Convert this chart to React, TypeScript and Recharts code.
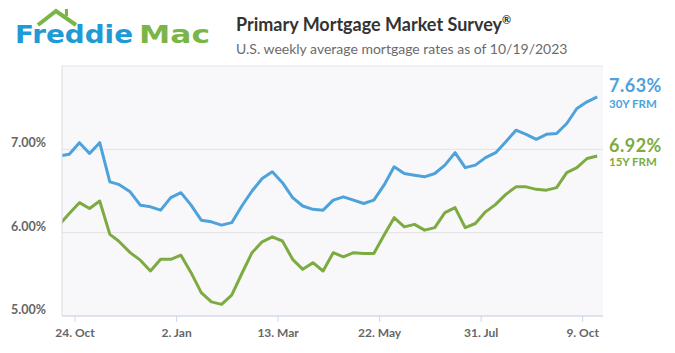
import { LineChart, Line, XAxis, YAxis, CartesianGrid } from "recharts";

// weekly survey dates (Thursdays) and rates
const weekDates = [
  "2022-10-13", "2022-10-20", "2022-10-27", "2022-11-03", "2022-11-10", "2022-11-17",
  "2022-11-23", "2022-12-01", "2022-12-08", "2022-12-15", "2022-12-22", "2022-12-29",
  "2023-01-05", "2023-01-12", "2023-01-19", "2023-01-26", "2023-02-02", "2023-02-09",
  "2023-02-16", "2023-02-23", "2023-03-02", "2023-03-09", "2023-03-16", "2023-03-23",
  "2023-03-30", "2023-04-06", "2023-04-13", "2023-04-20", "2023-04-27", "2023-05-04",
  "2023-05-11", "2023-05-18", "2023-05-25", "2023-06-01", "2023-06-08", "2023-06-15",
  "2023-06-22", "2023-06-29", "2023-07-06", "2023-07-13", "2023-07-20", "2023-07-27",
  "2023-08-03", "2023-08-10", "2023-08-17", "2023-08-24", "2023-08-31", "2023-09-07",
  "2023-09-14", "2023-09-21", "2023-09-28", "2023-10-05", "2023-10-12", "2023-10-19",
];

const rate30y = [
  6.92, 6.94, 7.08, 6.95, 7.08, 6.61, 6.58, 6.49, 6.33, 6.31,
  6.27, 6.42, 6.48, 6.33, 6.15, 6.13, 6.09, 6.12, 6.32, 6.5,
  6.65, 6.73, 6.6, 6.42, 6.32, 6.28, 6.27, 6.39, 6.43, 6.39,
  6.35, 6.39, 6.57, 6.79, 6.71, 6.69, 6.67, 6.71, 6.81, 6.96,
  6.78, 6.81, 6.9, 6.96, 7.09, 7.23, 7.18, 7.12, 7.18, 7.19,
  7.31, 7.49, 7.57, 7.63,
];

const rate15y = [
  6.09, 6.23, 6.36, 6.29, 6.38, 5.98, 5.9, 5.76, 5.67, 5.54,
  5.68, 5.68, 5.73, 5.52, 5.28, 5.17, 5.14, 5.25, 5.51, 5.76,
  5.89, 5.95, 5.9, 5.68, 5.56, 5.64, 5.54, 5.76, 5.71, 5.76,
  5.75, 5.75, 5.97, 6.18, 6.07, 6.1, 6.03, 6.06, 6.24, 6.3,
  6.06, 6.11, 6.25, 6.34, 6.46, 6.55, 6.55, 6.52, 6.51, 6.54,
  6.72, 6.78, 6.89, 6.92,
];

const tickDates = ["2022-10-24", "2023-01-02", "2023-03-13", "2023-05-22", "2023-07-31", "2023-10-09"];
const tickLabels = ["24. Oct", "2. Jan", "13. Mar", "22. May", "31. Jul", "9. Oct"];
const xRange = ["2022-10-15", "2023-10-23"];
const yTicks = [5, 6, 7, 8];

const BLUE = "#4ea2db";
const GREEN = "#7dab42";
const FONT = "Lato, 'Open Sans', sans-serif";

const toTime = (d: string) => new Date(d + "T00:00:00Z").getTime();

const data = weekDates.map((d, i) => ({ t: toTime(d), r30: rate30y[i], r15: rate15y[i] }));
const tickTimes = tickDates.map(toTime);

function YTick(props: any) {
  const { y, payload } = props;
  if (payload.value >= 8) return null;
  return (
    <text x={46} y={y - 2} textAnchor="end" fill="#666" fontSize={12.5} fontWeight={700} fontFamily={FONT}>
      {payload.value.toFixed(2)}%
    </text>
  );
}

function Header() {
  return (
    <svg width={675} height={353} style={{ position: "absolute", left: 0, top: 0, pointerEvents: "none" }}>
      {/* logo */}
      <polyline points="38,25 56,11 76,25" fill="none" stroke="#7ab547" strokeWidth={4} strokeLinejoin="miter" />
      <rect x={65} y={9} width={3} height={7} fill="#7ab547" />
      <text x={15} y={43} fill="#1e9ad6" fontSize={25} fontWeight={700} fontFamily="'DejaVu Sans', sans-serif"
        textLength={118} lengthAdjust="spacingAndGlyphs">Freddie</text>
      <text x={139} y={43} fill="#7ab547" fontSize={25} fontWeight={700} fontFamily="'DejaVu Sans', sans-serif"
        textLength={71} lengthAdjust="spacingAndGlyphs">Mac</text>
      {/* titles */}
      <text x={236} y={31} fill="#333" fontSize={18} fontWeight={700} fontFamily={FONT}>
        Primary Mortgage Market Survey<tspan fontSize={11} dy={-7}>®</tspan>
      </text>
      <text x={236} y={54} fill="#6b6b6b" fontSize={14} fontFamily={FONT}>
        U.S. weekly average mortgage rates as of 10/19/2023
      </text>
      {/* end labels */}
      <text x={609} y={92} fill={BLUE} fontSize={18} fontWeight={700} fontFamily={FONT} letterSpacing={0.5}>7.63%</text>
      <text x={609} y={108} fill={BLUE} fontSize={11.5} fontWeight={700} fontFamily={FONT}>30Y FRM</text>
      <text x={609} y={152} fill={GREEN} fontSize={18} fontWeight={700} fontFamily={FONT} letterSpacing={0.5}>6.92%</text>
      <text x={609} y={166} fill={GREEN} fontSize={11.5} fontWeight={700} fontFamily={FONT}>15Y FRM</text>
    </svg>
  );
}

export default function App() {
  return (
    <div style={{ position: "absolute", left: 0, top: 0, width: 675, height: 353, background: "#fff" }}>
      <LineChart width={675} height={353} data={data} margin={{ top: 66, right: 72, bottom: 7, left: 0 }}>
        <CartesianGrid vertical={false} stroke="#e3e3e3" fill="#f8f8fa" />
        <XAxis
          dataKey="t"
          type="number"
          domain={[toTime(xRange[0]), toTime(xRange[1])]}
          allowDataOverflow
          ticks={tickTimes}
          tickFormatter={(v: number) => tickLabels[tickTimes.indexOf(v)] ?? ""}
          height={30}
          axisLine={{ stroke: "#ccd6eb" }}
          tickLine={{ stroke: "#ccd6eb" }}
          tickSize={6}
          tickMargin={6}
          tick={{ fill: "#666", fontSize: 12, fontWeight: 700, fontFamily: FONT }}
        />
        <YAxis
          type="number"
          domain={[5, 8]}
          ticks={yTicks}
          width={62}
          axisLine={{ stroke: "#d9dce6" }}
          tickLine={false}
          tick={<YTick />}
        />
        <Line type="linear" dataKey="r30" stroke={BLUE} strokeWidth={3} dot={false} strokeLinejoin="round" isAnimationActive={false} />
        <Line type="linear" dataKey="r15" stroke={GREEN} strokeWidth={3} dot={false} strokeLinejoin="round" isAnimationActive={false} />
      </LineChart>
      <Header />
    </div>
  );
}
